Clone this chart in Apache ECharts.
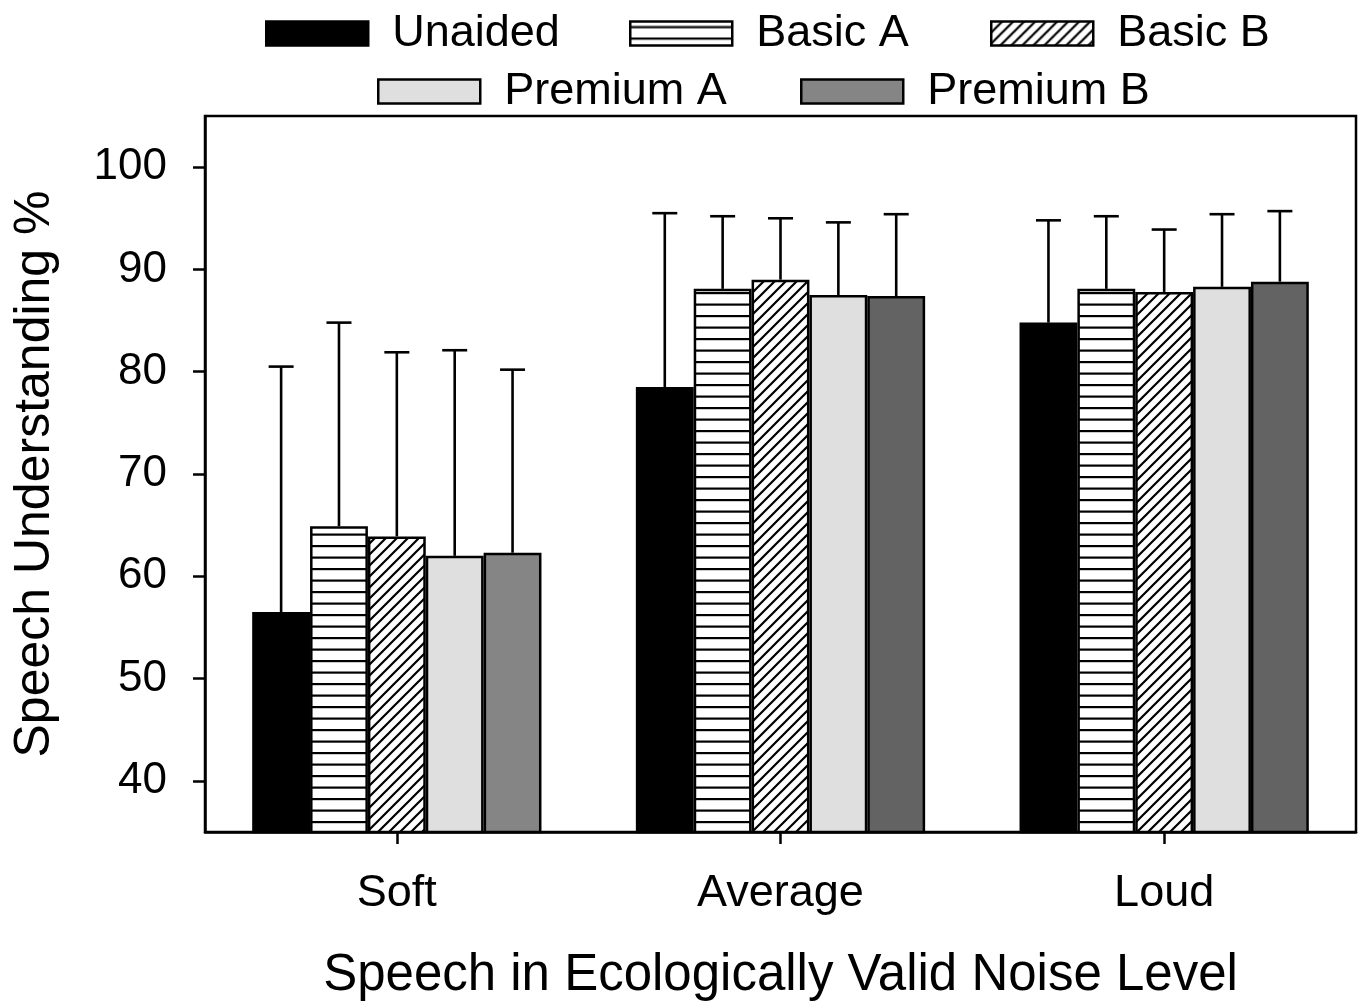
<!DOCTYPE html>
<html>
<head>
<meta charset="utf-8">
<script src="https://cdn.jsdelivr.net/npm/echarts@6/dist/echarts.min.js"></script>
<style>
html,body{margin:0;padding:0;background:#fff;}
#chart{width:1363px;height:1002px;}
</style>
</head>
<body>
<div id="chart"></div>
<script>
// ---- data ----
var categories = ['Soft', 'Average', 'Loud'];
var seriesNames = ['Unaided', 'Basic A', 'Basic B', 'Premium A', 'Premium B'];
var unaided  = [56.5, 78.5, 84.8];
var basicA   = [64.9, 88.1, 88.1];
var basicB   = [63.9, 89.0, 87.8];
var premiumA = [62.0, 87.5, 88.3];
var premiumB = [62.3, 87.4, 88.8];
// upper end of error bars
var unaidedUpper  = [80.5, 95.5, 94.8];
var basicAUpper   = [84.8, 95.2, 95.2];
var basicBUpper   = [81.9, 95.0, 93.9];
var premiumAUpper = [82.1, 94.6, 95.4];
var premiumBUpper = [80.2, 95.4, 95.7];
var yTicks = [40, 50, 60, 70, 80, 90, 100];

// ---- patterns ----
function hLines() {
  var c = document.createElement('canvas');
  c.width = 8; c.height = 23;
  var g = c.getContext('2d');
  g.fillStyle = '#fff'; g.fillRect(0, 0, 8, 23);
  g.fillStyle = '#000';
  g.fillRect(0, 4.5, 8, 2.2);
  g.fillRect(0, 16, 8, 2.2);
  return c;
}
function dLines() {
  var s = 11;
  var c = document.createElement('canvas');
  c.width = s; c.height = s;
  var g = c.getContext('2d');
  g.fillStyle = '#fff'; g.fillRect(0, 0, s, s);
  g.strokeStyle = '#000'; g.lineWidth = 2.2;
  g.beginPath();
  g.moveTo(-2, s + 2); g.lineTo(s + 2, -2);
  g.moveTo(-s / 2 - 2, s / 2 + 2); g.lineTo(s / 2 + 2, -s / 2 - 2);
  g.moveTo(s / 2 - 2, s * 1.5 + 2); g.lineTo(s * 1.5 + 2, s / 2 - 2);
  g.stroke();
  return c;
}
var fills = [
  '#000000',
  { image: hLines(), repeat: 'repeat' },
  { image: dLines(), repeat: 'repeat' },
  '#dfdfdf',
  '#858585'
];
var means = [unaided, basicA, basicB, premiumA, premiumB];
var uppers = [unaidedUpper, basicAUpper, basicBUpper, premiumAUpper, premiumBUpper];
var premiumBColors = ['#858585', '#636363', '#636363'];

var GAP = 0.246;
var FONT = '"Liberation Sans", Arial, sans-serif';

var series = seriesNames.map(function (name, s) {
  return {
    name: name,
    type: 'bar',
    barGap: '0%',
    barCategoryGap: (GAP * 100) + '%',
    itemStyle: { color: fills[s], borderColor: '#000', borderWidth: 2.5 },
    emphasis: { disabled: true },
    data: means[s].map(function (v, i) {
      if (s === 4) return { value: v, itemStyle: { color: premiumBColors[i] } };
      return v;
    }),
    z: 2
  };
});

var errData = [];
for (var s = 0; s < 5; s++) {
  for (var i = 0; i < categories.length; i++) {
    errData.push([i, s, means[s][i], uppers[s][i]]);
  }
}
series.push({
  type: 'custom',
  name: 'err',
  z: 5,
  silent: true,
  encode: { x: 0, y: 3 },
  data: errData,
  renderItem: function (params, api) {
    var cat = api.value(0), s = api.value(1);
    var band = api.size([1, 0])[0];
    var bw = band * (1 - GAP) / 5;
    var p0 = api.coord([cat, api.value(2)]);
    var p1 = api.coord([cat, api.value(3)]);
    var x = p0[0] + (s - 2) * bw;
    var capHalf = 12.5;
    var st = { stroke: '#000', lineWidth: 2.6, fill: null };
    return {
      type: 'group',
      children: [
        { type: 'line', shape: { x1: x, y1: p0[1], x2: x, y2: p1[1] }, style: st },
        { type: 'line', shape: { x1: x - capHalf, y1: p1[1], x2: x + capHalf, y2: p1[1] }, style: st }
      ]
    };
  }
});

var legendPos = [
  { left: 265, top: 11 },
  { left: 629, top: 11 },
  { left: 990, top: 11 },
  { left: 377, top: 69 },
  { left: 800, top: 69 }
];
var legends = seriesNames.map(function (name, k) {
  return {
    data: [name],
    left: legendPos[k].left,
    top: legendPos[k].top,
    padding: 0,
    icon: 'rect',
    itemWidth: 102,
    itemHeight: 24,
    selectedMode: false,
    itemStyle: { borderColor: '#000', borderWidth: 2.5 },
    textStyle: { fontFamily: FONT, fontSize: 45, color: '#000', lineHeight: 45, padding: [0, 0, 0, 19] }
  };
});

var chart = echarts.init(document.getElementById('chart'), null, { renderer: 'canvas' });
chart.setOption({
  animation: false,
  backgroundColor: '#fff',
  legend: legends,
  grid: {
    left: 205, right: 7, top: 116, bottom: 170,
    outerBoundsMode: 'none',
    containLabel: false,
    show: true, borderColor: '#000', borderWidth: 2.5, backgroundColor: 'transparent'
  },
  xAxis: {
    type: 'category',
    data: categories,
    axisLine: { lineStyle: { color: '#000', width: 2.5 } },
    axisTick: { show: true, alignWithLabel: true, length: 12, lineStyle: { color: '#000', width: 2.5 } },
    axisLabel: { fontFamily: FONT, fontSize: 45, color: '#000', margin: 39 },
    name: 'Speech in Ecologically Valid Noise Level',
    nameLocation: 'middle',
    nameGap: 118,
    nameTextStyle: { fontFamily: FONT, fontSize: 51, color: '#000' }
  },
  yAxis: {
    type: 'value',
    min: 35,
    max: 105,
    axisLine: { show: true, lineStyle: { color: '#000', width: 2.5 } },
    axisTick: { show: true, length: 12, customValues: yTicks, lineStyle: { color: '#000', width: 2.5 } },
    axisLabel: { fontFamily: FONT, fontSize: 44, color: '#000', margin: 38, customValues: yTicks },
    splitLine: { show: false },
    name: 'Speech Understanding %',
    nameLocation: 'middle',
    nameGap: 145,
    nameTextStyle: { fontFamily: FONT, fontSize: 50, color: '#000' }
  },
  series: series
});
</script>
</body>
</html>
